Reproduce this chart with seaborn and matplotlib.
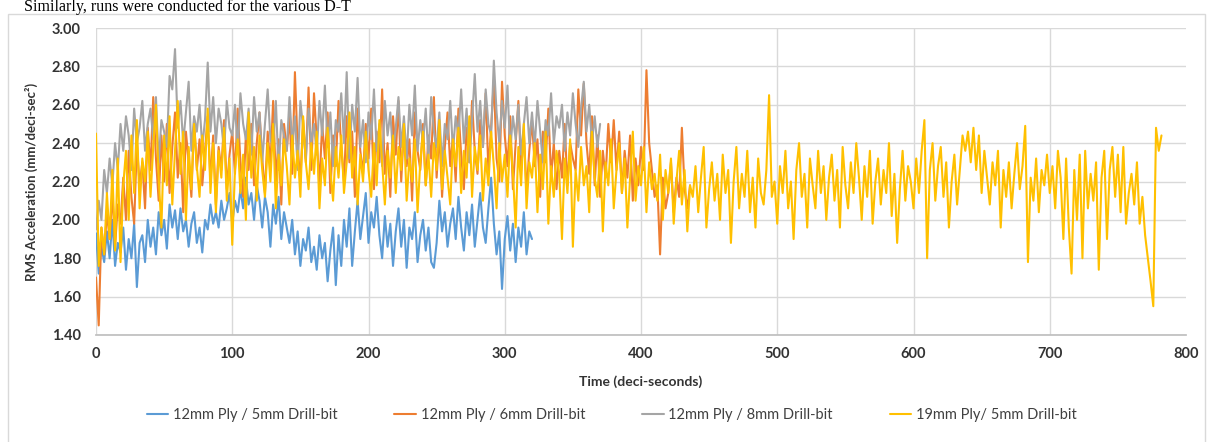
import numpy as np
import pandas as pd
import seaborn as sns
import matplotlib.pyplot as plt
from matplotlib.patches import Rectangle

# RMS acceleration, in hundredths, one value every 2 deci-seconds
ply12_drill5 = [
    193, 172, 186, 178, 194, 180, 200, 176, 188, 183,
    196, 174, 190, 180, 198, 165, 188, 192, 178, 200,
    186, 196, 182, 204, 192, 200, 185, 208, 196, 205,
    190, 206, 194, 200, 186, 198, 204, 188, 196, 183,
    200, 195, 208, 198, 204, 196, 210, 200, 206, 214,
    198, 210, 204, 216, 206, 222, 208, 214, 200, 218,
    210, 196, 212, 204, 186, 208, 198, 212, 190, 204,
    196, 188, 200, 182, 194, 176, 190, 184, 196, 178,
    186, 174, 192, 180, 188, 168, 184, 196, 166, 192,
    176, 200, 186, 206, 176, 194, 210, 190, 202, 214,
    188, 204, 196, 212, 192, 180, 202, 186, 198, 176,
    194, 206, 186, 200, 175, 196, 190, 204, 178, 192,
    200, 184, 196, 178, 175, 188, 210, 194, 204, 186,
    198, 206, 190, 212, 196, 184, 204, 192, 208, 186,
    200, 214, 196, 188, 206, 222, 198, 182, 194, 164,
    190, 202, 184, 198, 178, 196, 186, 204, 182, 194,
    190,
]
ply12_drill6 = [
    170, 145, 196, 182, 204, 190, 214, 186, 208, 198,
    222, 200, 236, 212, 198, 240, 218, 230, 206, 248,
    226, 264, 232, 210, 244, 220, 250, 214, 238, 256,
    222, 240, 204, 246, 230, 212, 252, 226, 242, 218,
    236, 254, 220, 244, 208, 238, 226, 252, 216, 234,
    246, 224, 258, 230, 212, 244, 226, 250, 218, 240,
    256, 232, 214, 246, 228, 262, 220, 242, 208, 250,
    236, 254, 224, 277, 238, 220, 252, 230, 269, 226,
    266, 242, 218, 250, 232, 256, 214, 244, 228, 262,
    238, 220, 254, 230, 246, 212, 258, 236, 224, 250,
    232, 258, 216, 246, 230, 268, 224, 240, 212, 254,
    234, 262, 220, 248, 228, 242, 210, 256, 236, 226,
    250, 218, 244, 232, 264, 222, 246, 212, 238, 256,
    228, 244, 220, 258, 234, 216, 248, 230, 262, 236,
    224, 252, 238, 266, 226, 248, 273, 232, 220, 272,
    244, 228, 254, 216, 240, 262, 226, 246, 214, 236,
    252, 228, 242, 212, 246, 230, 258, 222, 240, 216,
    236, 222, 250, 218, 240, 232, 226, 268, 244, 271,
    240, 224, 254, 218, 244, 212, 236, 222, 250, 230,
    252, 226, 246, 214, 236, 222, 244, 210, 232, 218,
    238, 226, 278, 240, 226, 212, 218, 182, 222, 206,
    214, 230, 204, 222, 212, 248, 216, 206, 218,
]
ply12_drill8 = [
    195, 210, 200, 226, 214, 232, 218, 240, 226, 250,
    236, 254, 244, 226, 258, 240, 248, 262, 236, 250,
    258, 242, 264, 230, 252, 246, 238, 275, 268, 289,
    248, 262, 240, 256, 272, 236, 254, 246, 260, 238,
    252, 282, 246, 264, 240, 258, 250, 236, 262, 248,
    244, 260, 236, 266, 250, 242, 258, 234, 264, 246,
    256, 230, 250, 268, 242, 238, 262, 226, 252, 244,
    236, 264, 240, 254, 226, 262, 248, 232, 258, 240,
    250, 234, 262, 244, 270, 238, 256, 228, 252, 246,
    266, 240, 277, 232, 260, 246, 274, 238, 252, 230,
    256, 242, 268, 236, 250, 228, 262, 244, 256, 234,
    248, 264, 238, 254, 232, 260, 244, 270, 236, 252,
    240, 258, 232, 264, 246, 238, 256, 228, 250, 242,
    262, 236, 254, 244, 268, 240, 258, 230, 252, 276,
    246, 262, 238, 268, 250, 244, 283, 256, 240, 262,
    248, 270, 236, 254, 242, 260, 234, 250, 264, 240,
    256, 238, 262, 246, 230, 252, 244, 266, 240, 254,
    248, 260, 236, 256, 244, 266, 250, 238, 258, 272,
    246, 260, 240, 254, 238, 250,
]
ply19_drill5 = [
    245, 176, 196, 182, 214, 190, 226, 184, 232, 178,
    218, 236, 200, 244, 214, 252, 206, 232, 220, 246,
    212, 238, 260, 222, 196, 244, 218, 254, 208, 236,
    262, 224, 246, 200, 238, 216, 250, 228, 212, 244,
    226, 258, 214, 240, 204, 236, 222, 248, 210, 232,
    187, 226, 242, 214, 234, 200, 256, 222, 238, 210,
    244, 226, 212, 240, 220, 250, 206, 234, 218, 242,
    228, 208, 244, 222, 236, 212, 254, 230, 216, 240,
    224, 246, 206, 232, 218, 248, 226, 210, 238, 222,
    244, 214, 230, 256, 222, 238, 208, 234, 220, 246,
    226, 212, 240, 218, 252, 230, 208, 236, 222, 244,
    214, 238, 226, 250, 210, 232, 220, 242, 204, 230,
    246, 218, 234, 212, 240, 226, 252, 216, 236, 222,
    208, 242, 228, 248, 214, 236, 222, 254, 212, 238,
    226, 244, 210, 232, 218, 246, 228, 206, 240, 220,
    234, 212, 244, 224, 196, 238, 218, 250, 206, 230,
    222, 240, 204, 234, 216, 246, 198, 228, 212, 236,
    224, 190, 232, 214, 242, 186, 226, 210, 238, 218,
    228, 204, 246, 222, 212, 236, 194, 230, 218, 242,
    206, 226, 240, 214, 232, 196, 222, 246, 210, 228,
    218, 238, 204, 230, 216, 224, 210, 234, 200, 226,
    214, 232, 198, 220, 236, 208, 226, 194, 218, 212,
    228, 204, 222, 238, 196, 216, 230, 210, 224, 200,
    234, 214, 226, 188, 220, 238, 206, 224, 212, 236,
    204, 222, 196, 232, 214, 208, 226, 265, 212, 220,
    198, 228, 214, 236, 206, 220, 190, 226, 240, 212,
    224, 196, 232, 218, 206, 236, 214, 228, 200, 222,
    234, 210, 226, 196, 238, 218, 206, 230, 214, 240,
    222, 200, 228, 212, 236, 198, 220, 232, 208, 226,
    214, 240, 202, 224, 188, 216, 236, 210, 228, 220,
    206, 232, 214, 236, 252, 180, 226, 240, 210, 228,
    238, 212, 230, 196, 220, 234, 208, 226, 244, 236,
    246, 230, 248, 226, 244, 214, 236, 222, 208, 230,
    218, 236, 196, 226, 212, 230, 206, 224, 240, 216,
    228, 249, 178, 222, 210, 232, 204, 226, 218, 234,
    214, 228, 206, 236, 222, 190, 232, 196, 172, 226,
    200, 234, 180, 236, 206, 224, 210, 230, 174, 222,
    236, 190, 226, 238, 212, 234, 204, 238, 198, 214,
    224, 208, 230, 198, 212, 192, 180, 168, 155, 248,
    236, 244,
]

series_names = ['12mm Ply / 5mm Drill-bit', '12mm Ply / 6mm Drill-bit',
                '12mm Ply / 8mm Drill-bit', '19mm Ply/ 5mm Drill-bit']
colors = ['#5B9BD5', '#ED7D31', '#A5A5A5', '#FFC000']
step = 2

frames = []
for name, vals in zip(series_names, [ply12_drill5, ply12_drill6, ply12_drill8, ply19_drill5]):
    frames.append(pd.DataFrame({'time': np.arange(len(vals)) * step,
                                'rms': np.array(vals) / 100.0,
                                'series': name}))
df = pd.concat(frames, ignore_index=True)

sns.set_theme(style='whitegrid')
plt.rcParams['font.family'] = ['Lato', 'DejaVu Sans']

fig = plt.figure(figsize=(12.11, 4.42), dpi=100)
ax = fig.add_axes([96 / 1211, 1 - 335 / 442, 1090 / 1211, 307 / 442])

sns.lineplot(data=df, x='time', y='rms', hue='series', palette=colors,
             estimator=None, sort=False, linewidth=1.5, legend=False, ax=ax)

ax.set_xlim(0, 800)
ax.set_ylim(1.4, 3.0)
ax.set_xticks(np.arange(0, 801, 100))
ax.set_yticks(np.arange(1.4, 3.01, 0.2))
ax.set_yticklabels(['%.2f' % v for v in np.arange(1.4, 3.01, 0.2)])
ax.grid(True, color='#D9D9D9', linewidth=1)
ax.xaxis.get_gridlines()[-1].set_visible(False)
for s in ['top', 'right', 'left']:
    ax.spines[s].set_visible(False)
ax.spines['bottom'].set_color('#BFBFBF')
ax.tick_params(length=0, labelsize=10.5, labelcolor='#333333')
ax.tick_params(axis='y', pad=11)
ax.tick_params(axis='x', pad=9)
for lab in ax.get_xticklabels() + ax.get_yticklabels():
    lab.set_fontweight('bold')

ax.set_xlabel('Time (deci-seconds)', fontsize=10, fontweight='bold', color='#333333', va='center')
ax.xaxis.set_label_coords(0.5, -0.153)
ax.set_ylabel('RMS Acceleration (mm/deci-sec²)', fontsize=9.5, fontweight='bold', color='#333333', va='center')
ax.yaxis.set_label_coords(-0.059, 0.5)

fig.legend(handles=ax.lines[:4], labels=series_names, loc='center',
           bbox_to_anchor=(0.505, 1 - 415 / 442), ncol=4, frameon=False,
           fontsize=10.5, handlelength=1.5, handletextpad=0.3, columnspacing=3.9,
           labelcolor='#404040')

# outer chart border and the line of page text above it
fig.add_artist(Rectangle((8 / 1211, -0.05), 1197 / 1211, 1.05 - 14 / 442,
                         transform=fig.transFigure, fill=False,
                         edgecolor='#D9D9D9', linewidth=1))
fig.text(24 / 1211, 1 - 11 / 442, 'Similarly, runs were conducted for the various D-T',
         family='Liberation Serif', fontsize=11.5, va='baseline', ha='left', color='black')

fig.savefig('out.png', dpi=100)
